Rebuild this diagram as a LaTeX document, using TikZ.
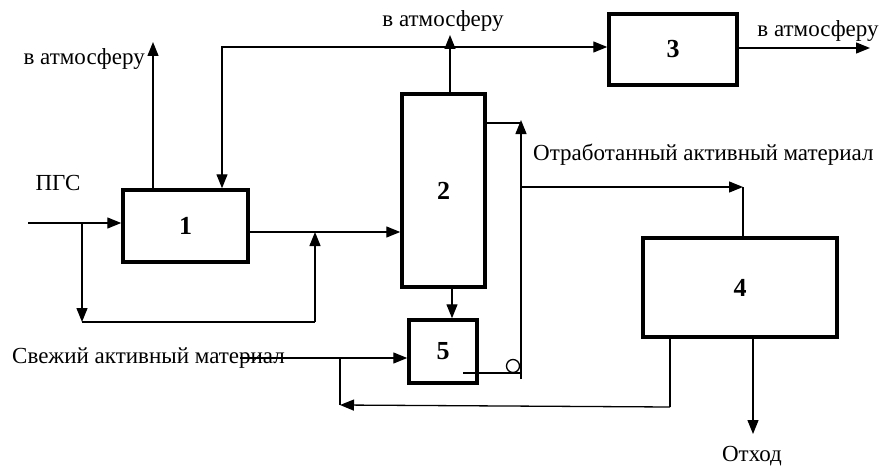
\documentclass[tikz,border=0pt]{standalone}
\usepackage{fontspec}
\setmainfont{Liberation Serif}
\usetikzlibrary{arrows.meta}
\begin{document}
\begin{tikzpicture}[x=1pt,y=-1pt,
  blk/.style={draw,line width=3.5pt,inner sep=0pt,font=\fontsize{26}{26}\selectfont\bfseries},
  conn/.style={line width=1.3pt},
  arr/.style={conn,-{Triangle[length=14pt,width=11pt]}},
  lbl/.style={font=\fontsize{23}{23}\selectfont,inner sep=0pt}]
\useasboundingbox (0,0) rectangle (882,468);
% blocks
\node[blk,minimum width=125pt,minimum height=72pt] (b1) at (185.5,226) {1};
\node[blk,minimum width=83pt,minimum height=193pt] (b2) at (443.5,190.5) {2};
\node[blk,minimum width=128pt,minimum height=71pt] (b3) at (673,49.5) {3};
\node[blk,minimum width=194pt,minimum height=99pt] (b4) at (740,287.5) {4};
\node[blk,minimum width=68pt,minimum height=63pt] (b5) at (443,351.5) {5};
% labels
\node[lbl] (pgs) at (58,183) {ПГС};
\node[lbl,anchor=east] (atm1) at (145,59) {в атмосферу};
\node[lbl] (atm2) at (443,21) {в атмосферу};
\node[lbl] (atm3) at (818,31) {в атмосферу};
\node[lbl,anchor=west] (spent) at (533,155) {Отработанный активный материал};
\node[lbl,anchor=west] (fresh) at (12,358) {Свежий активный материал};
\node[lbl] (waste) at (752,456) {Отход};
% coordinates
\coordinate (in0) at (28,223);
\coordinate (j1) at (82,223);
\coordinate (jd) at (82,322);
\coordinate (ju) at (315,322);
\coordinate (jm) at (315,232);
\coordinate (up1) at (153,42);
\coordinate (top1) at (222,47);
\coordinate (up2) at (450,35);
\coordinate (out3) at (870,48);
\coordinate (vr) at (521,379);
\coordinate (vt) at (521,120);
\coordinate (v2) at (521,123);
\coordinate (vb) at (521,187);
\coordinate (c4) at (743,187);
\coordinate (s5) at (463,373);
\coordinate (r5) at (521,373);
\coordinate (d25) at (452,320);
\coordinate (fr) at (240,358);
\coordinate (rc) at (670,407);
\coordinate (rl) at (340,405);
\coordinate (rf) at (340,358);
\coordinate (wd) at (753,434);
% connectors
\draw[arr] (in0) -- (in0 -| b1.west);
\draw[arr] (j1) -- (jd);
\draw[conn] (jd) -- (ju);
\draw[arr] (ju) -- (jm);
\draw[arr] (b1.east |- jm) -- (b2.west |- jm);
\draw[arr] (up1 |- b1.north) -- (up1);
\draw[conn,{Triangle[length=14pt,width=11pt]}-{Triangle[length=14pt,width=11pt]}] (top1 |- b1.north) -- (top1) -- (top1 -| b3.west);
\draw[arr] (up2 |- b2.north) -- (up2);
\draw[arr] (b3.east |- out3) -- (out3);
\draw[conn] (b2.east |- v2) -- (v2);
\draw[arr] (vr) -- (vt);
\draw[arr] (vb) -- (c4);
\draw[conn] (c4) -- (c4 |- b4.north);
\draw[arr] (d25 |- b2.south) -- (d25 |- b5.north);
\draw[conn] (s5) -- (r5);
\draw[conn] (513,366) circle (6.5pt);
\draw[arr] (fr) -- (fr -| b5.west);
\draw[conn] (rc |- b4.south) -- (rc);
\draw[arr] (rc) -- (rl);
\draw[conn] (rl) -- (rf);
\draw[arr] (wd |- b4.south) -- (wd);
\end{tikzpicture}
\end{document}
